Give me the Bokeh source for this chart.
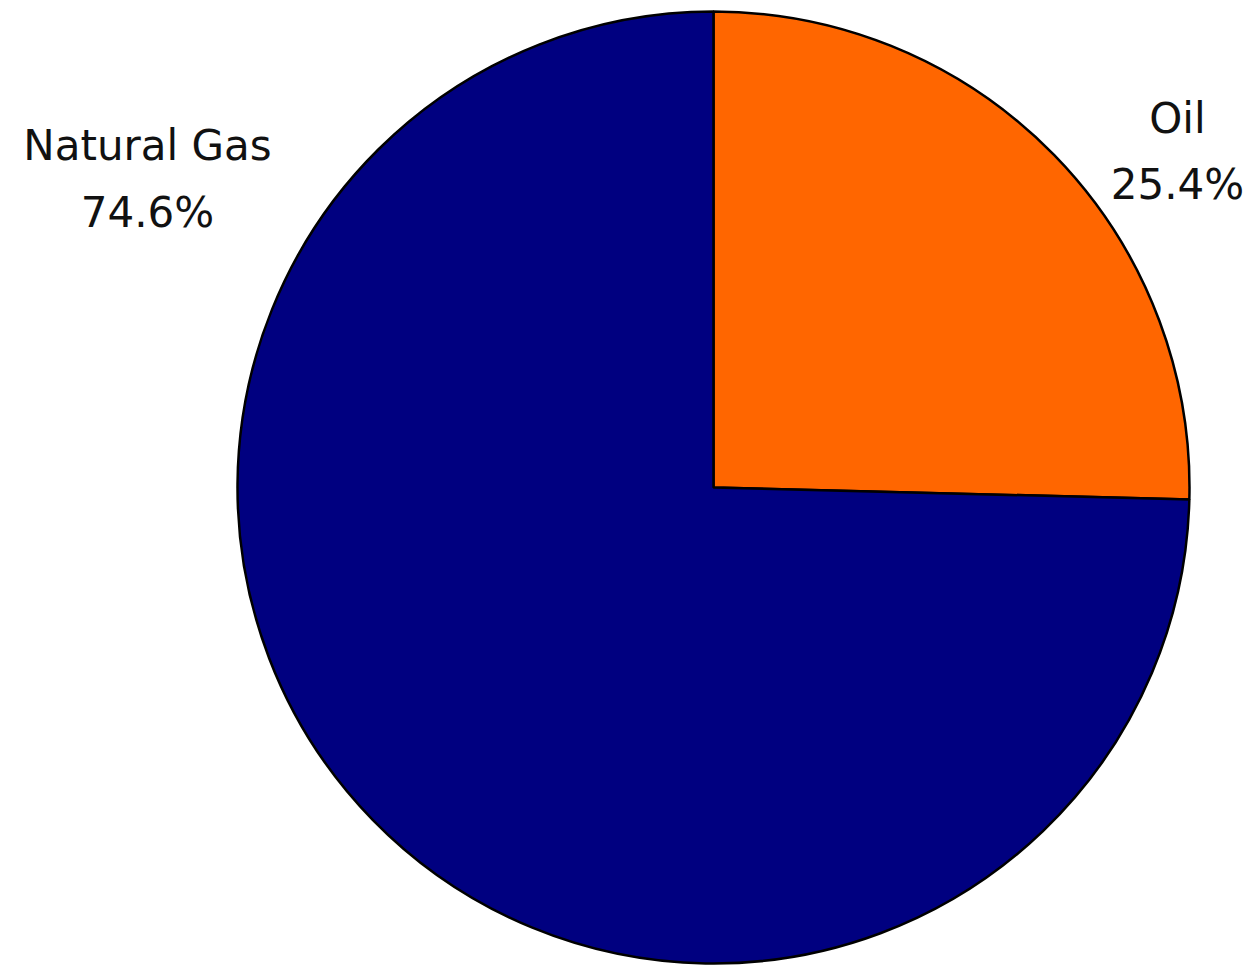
import math
from bokeh.plotting import figure
from bokeh.models import Range1d, ColumnDataSource
from bokeh.core.properties import value
from bokeh.embed import file_html
from bokeh.resources import INLINE

# Data
categories = ["Oil", "Natural Gas"]
shares = [25.4, 74.6]
colors = ["#FF6600", "#000080"]

W, H = 1250, 965
p = figure(width=W, height=H, output_backend="svg", toolbar_location=None,
           x_range=Range1d(0, W), y_range=Range1d(H, 0), min_border=0)
p.axis.visible = False
p.grid.visible = False
p.outline_line_color = None
p.background_fill_color = "white"
p.border_fill_color = "white"

cx, cy, r = 713, 487, 476

# angles: start at 12 o'clock, slices go clockwise (Oil first)
starts, ends = [], []
acc = 0.0
for s in shares:
    a_end = math.pi / 2 - 2 * math.pi * acc / 100.0
    acc += s
    a_start = math.pi / 2 - 2 * math.pi * acc / 100.0
    starts.append(a_start)
    ends.append(a_end)

src = ColumnDataSource(dict(cat=categories, share=shares, color=colors,
                            start=starts, end=ends))
p.wedge(x=cx, y=cy, radius=r, start_angle="start", end_angle="end",
        fill_color="color", line_color="black", line_width=2.5, source=src,
        direction="anticlock")

# Labels
lab_x = [1177, 147]
names = list(categories)
pcts = [f"{s:.1f}%" for s in shares]
p.text(x=lab_x, y=[118, 145], text=names, text_font=value("DejaVu Sans"),
       text_font_size="42px", text_align="center", text_baseline="middle",
       text_color="#111111")
p.text(x=lab_x, y=[184, 212], text=pcts, text_font=value("DejaVu Sans"),
       text_font_size="42px", text_align="center", text_baseline="middle",
       text_color="#111111")

open("out.html", "w").write(file_html(p, INLINE))
